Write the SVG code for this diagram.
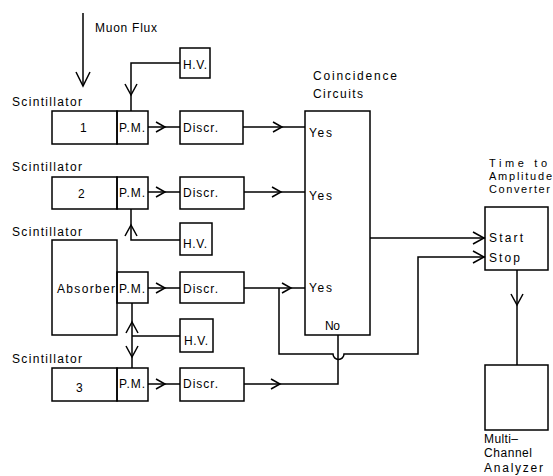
<svg xmlns="http://www.w3.org/2000/svg" xmlns:xlink="http://www.w3.org/1999/xlink" width="553" height="476" viewBox="0 0 553 476">
<style>
rect{fill:none;stroke:#000;stroke-width:1.5}
.c path,.c line{fill:none;stroke:#000;stroke-width:1.5}
text{font-family:"Liberation Sans",Arial,sans-serif;font-size:12px;fill:#000}
.sm{font-size:11px}
.ch{fill:none;stroke:#000;stroke-width:1.5}
</style>
<defs>
<path id="chev" class="ch" d="M-9,-5 L0,0 L-9,5"/>
<path id="chevL" class="ch" d="M-14,-7 L0,0 L-14,7"/>
<path id="chevM" class="ch" d="M-11,-6 L0,0 L-11,6"/>
</defs>
<rect width="553" height="476" style="fill:#fff;stroke:none"/>

<g id="muon">
<text x="95" y="32" textLength="62" lengthAdjust="spacing">Muon Flux</text>
</g>

<g id="hv1"><rect x="180" y="48" width="30" height="30"/><text x="183" y="69" textLength="24" lengthAdjust="spacing">H.V.</text></g>
<g id="scint1"><text x="12" y="106" textLength="70" lengthAdjust="spacing">Scintillator</text><rect x="52" y="111" width="65" height="33"/><text x="80" y="132">1</text></g>
<g id="pm1"><rect x="117" y="111" width="31" height="33"/><text x="119" y="132" textLength="26" lengthAdjust="spacing">P.M.</text></g>
<g id="discr1"><rect x="180" y="111" width="63" height="33"/><text x="183" y="132" textLength="35" lengthAdjust="spacing">Discr.</text></g>

<g id="scint2"><text x="12" y="171" textLength="70" lengthAdjust="spacing">Scintillator</text><rect x="52" y="177" width="65" height="32"/><text x="78" y="198">2</text></g>
<g id="pm2"><rect x="117" y="177" width="31" height="32"/><text x="119" y="197" textLength="26" lengthAdjust="spacing">P.M.</text></g>
<g id="discr2"><rect x="180" y="177" width="64" height="32"/><text x="183" y="197" textLength="35" lengthAdjust="spacing">Discr.</text></g>
<g id="hv2"><rect x="180" y="223" width="32" height="32"/><text x="183" y="248" textLength="24" lengthAdjust="spacing">H.V.</text></g>

<g id="absorber"><text x="12" y="236" textLength="70" lengthAdjust="spacing">Scintillator</text><rect x="52" y="240" width="65" height="95"/><text x="57" y="293" textLength="58" lengthAdjust="spacing">Absorber</text></g>
<g id="pm3"><rect x="117" y="272" width="31" height="31"/><text x="119" y="293" textLength="26" lengthAdjust="spacing">P.M.</text></g>
<g id="discr3"><rect x="180" y="272" width="64" height="31"/><text x="183" y="293" textLength="35" lengthAdjust="spacing">Discr.</text></g>
<g id="hv3"><rect x="180" y="319" width="33" height="33"/><text x="184" y="345" textLength="24" lengthAdjust="spacing">H.V.</text></g>

<g id="scint3"><text x="12" y="363" textLength="70" lengthAdjust="spacing">Scintillator</text><rect x="52" y="368" width="65" height="33"/><text x="76" y="392">3</text></g>
<g id="pm4"><rect x="117" y="368" width="31" height="33"/><text x="119" y="388" textLength="26" lengthAdjust="spacing">P.M.</text></g>
<g id="discr4"><rect x="180" y="368" width="64" height="33"/><text x="183" y="388" textLength="35" lengthAdjust="spacing">Discr.</text></g>

<g id="coincidence">
<text x="313" y="80" textLength="84" lengthAdjust="spacing">Coincidence</text>
<text x="313" y="98" textLength="50" lengthAdjust="spacing">Circuits</text>
<rect x="305" y="111" width="65" height="224"/>
<text x="309" y="137" textLength="23" lengthAdjust="spacing">Yes</text>
<text x="309" y="200" textLength="23" lengthAdjust="spacing">Yes</text>
<text x="309" y="292" textLength="23" lengthAdjust="spacing">Yes</text>
<text x="325" y="330" textLength="15" lengthAdjust="spacing">No</text>
</g>

<g id="tac">
<text class="sm" x="489" y="167" textLength="58" lengthAdjust="spacing">Time to</text>
<text class="sm" x="489" y="180" textLength="63" lengthAdjust="spacing">Amplitude</text>
<text class="sm" x="489" y="193" textLength="61" lengthAdjust="spacing">Converter</text>
<rect x="485" y="207" width="63" height="63"/>
<text x="489" y="242" textLength="34" lengthAdjust="spacing">Start</text>
<text x="489" y="262" textLength="31" lengthAdjust="spacing">Stop</text>
</g>

<g id="mca">
<rect x="485" y="365" width="63" height="65"/>
<text x="484" y="443" textLength="34" lengthAdjust="spacing">Multi–</text>
<text x="484" y="457" textLength="48" lengthAdjust="spacing">Channel</text>
<text x="484" y="472" textLength="59" lengthAdjust="spacing">Analyzer</text>
</g>

<g id="connectors" class="c">
<line x1="83" y1="13" x2="83" y2="86"/>
<use href="#chevL" transform="translate(83,86) rotate(90)"/>
<path d="M180,63 H131 V111"/>
<use href="#chevM" transform="translate(131,95) rotate(90)"/>
<line x1="148" y1="127" x2="180" y2="127"/>
<use href="#chev" transform="translate(165,127)"/>
<line x1="243" y1="127" x2="305" y2="127"/>
<use href="#chev" transform="translate(282,127)"/>

<line x1="148" y1="192" x2="180" y2="192"/>
<use href="#chev" transform="translate(165,192)"/>
<line x1="244" y1="192" x2="305" y2="192"/>
<use href="#chev" transform="translate(281,192)"/>
<path d="M180,240 H131 V209"/>
<use href="#chevM" transform="translate(131,225) rotate(-90)"/>

<line x1="148" y1="288" x2="180" y2="288"/>
<use href="#chev" transform="translate(165,288)"/>
<line x1="244" y1="288" x2="305" y2="288"/>
<use href="#chev" transform="translate(291,288)"/>

<line x1="132" y1="303" x2="132" y2="368"/>
<line x1="180" y1="336" x2="132" y2="336"/>
<use href="#chevM" transform="translate(132,322) rotate(-90)"/>
<use href="#chevM" transform="translate(132,357) rotate(90)"/>

<line x1="148" y1="384" x2="180" y2="384"/>
<use href="#chev" transform="translate(165,384)"/>
<path d="M244,384 H338 V335"/>
<use href="#chev" transform="translate(280,384)"/>

<path d="M279,288 V354 H333 A5.5,5.5 0 0 0 344,354 H418 V257 H485"/>
<use href="#chevM" transform="translate(484,257)"/>
<line x1="370" y1="238" x2="485" y2="238"/>
<use href="#chevM" transform="translate(484,238)"/>

<line x1="517" y1="270" x2="517" y2="365"/>
<use href="#chevM" transform="translate(517,305) rotate(90)"/>
</g>
</svg>
